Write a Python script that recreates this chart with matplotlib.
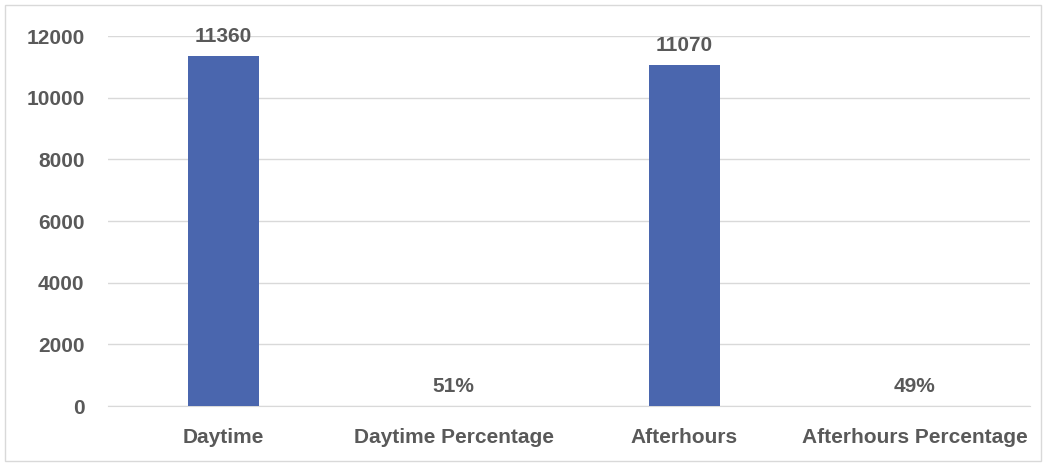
import numpy as np
import matplotlib.pyplot as plt
from matplotlib.patches import Rectangle

categories = ["Daytime", "Daytime Percentage", "Afterhours", "Afterhours Percentage"]
values = [11360, 0.51, 11070, 0.49]
valueLabels = ["11360", "51%", "11070", "49%"]

textColor = "#595959"
gridColor = "#d9d9d9"
barColor = "#4a66ae"

plt.rcParams['font.family'] = ['Liberation Sans', 'DejaVu Sans']

fig = plt.figure(figsize=(10.48, 4.65), dpi=100)
ax = fig.add_axes([108 / 1048, 1 - 406 / 465, 922 / 1048, 370 / 465])

x = np.arange(len(categories))
bars = ax.bar(x, values, width=0.31, color=barColor, zorder=3)

for xi, v, lab in zip(x, values, valueLabels):
    ax.annotate(lab, (xi, v), xytext=(0, 7), textcoords="offset points",
                ha="center", va="bottom", fontsize=15, fontweight="bold", color=textColor)

ax.set_xlim(-0.5, len(categories) - 0.5)
ax.set_ylim(0, 12000)
ax.set_yticks(np.arange(0, 12001, 2000))
ax.set_xticks(x)
ax.set_xticklabels(categories)
ax.tick_params(axis="both", length=0, labelsize=15, labelcolor=textColor)
ax.tick_params(axis="x", pad=16)
ax.tick_params(axis="y", pad=17)
for lbl in ax.get_xticklabels() + ax.get_yticklabels():
    lbl.set_fontweight("bold")

ax.grid(axis="y", color=gridColor, linewidth=1, zorder=0)
for side in ["top", "right", "left"]:
    ax.spines[side].set_visible(False)
ax.spines["bottom"].set_color(gridColor)

fig.patches.append(Rectangle((5 / 1048, 4 / 465), 1036 / 1048, 456 / 465,
                             transform=fig.transFigure, fill=False,
                             edgecolor=gridColor, linewidth=1))

fig.savefig("out.png", dpi=100)
